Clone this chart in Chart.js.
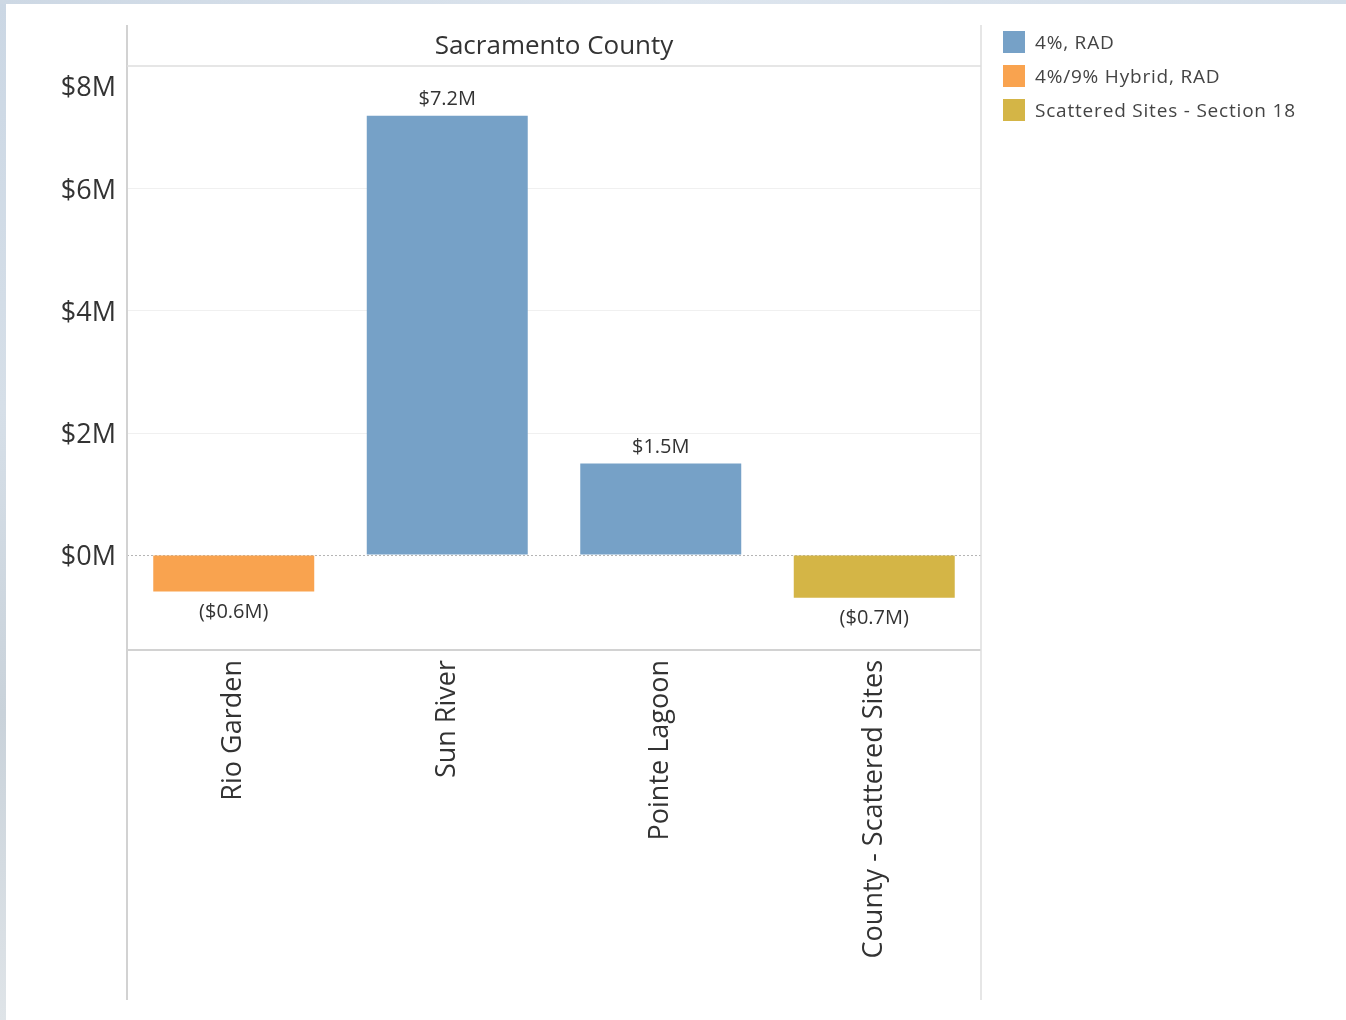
<!DOCTYPE html>
<html>
<head>
<meta charset="utf-8">
<title>Sacramento County</title>
<script src="https://cdn.jsdelivr.net/npm/chart.js@4.4.1/dist/chart.umd.min.js"></script>
<style>
    body { margin: 0; background: #fff; font-family: "Open Sans", sans-serif; }
    #wrap { position: relative; width: 1346px; height: 1020px; overflow: hidden; background: #fff; }
    #edgeLeft { position: absolute; left: 0; top: 0; width: 6px; height: 1020px;
        background: linear-gradient(#cbd7e4, #d6dfe8 40%, #c9d2da 70%, #dfe4e8); }
    #edgeTop { position: absolute; left: 0; top: 0; width: 1346px; height: 4px;
        background: linear-gradient(90deg, #cdd8e4, #dde5ee 50%, #d4dee9); }
    #chart { position: absolute; left: 0; top: 0; }
    #legend { position: absolute; left: 1003px; top: 25px; }
    .legend-item { display: flex; align-items: center; height: 34px; font-size: 19px; letter-spacing: 0.8px; color: #444; }
    .legend-swatch { width: 22px; height: 22px; margin-right: 10px; }
</style>
</head>
<body>
<div id="wrap">
    <canvas id="chart" width="1346" height="1020"></canvas>
    <div id="edgeLeft"></div>
    <div id="edgeTop"></div>
    <div id="legend"></div>
</div>
<script>
// 物件ごとの金額（百万ドル）
const categories = ['Rio Garden', 'Sun River', 'Pointe Lagoon', 'County - Scattered Sites'];
const amounts = [-0.6, 7.2, 1.5, -0.7];
const dealTypes = ['4%/9% Hybrid, RAD', '4%, RAD', '4%, RAD', 'Scattered Sites - Section 18'];

// 凡例の種別と色
const typeNames = ['4%, RAD', '4%/9% Hybrid, RAD', 'Scattered Sites - Section 18'];
const typeColors = ['#76a1c7', '#f9a34f', '#d4b546'];

// Y軸の目盛り
const yTicks = [0, 2, 4, 6, 8];

const FONT = '"Open Sans", sans-serif';
const barColors = dealTypes.map(t => typeColors[typeNames.indexOf(t)]);

// 金額ラベルの書式
function formatAmount(v) {
    const s = '$' + Math.abs(v).toFixed(1) + 'M';
    return v < 0 ? '(' + s + ')' : s;
}

// 凡例を作成
const legendEl = document.getElementById('legend');
typeNames.forEach((name, i) => {
    const item = document.createElement('div');
    item.className = 'legend-item';
    item.innerHTML = `<span class="legend-swatch" style="background:${typeColors[i]}"></span>${name}`;
    legendEl.appendChild(item);
});

// 枠線・タイトル・ゼロ線・Y軸ラベル・値ラベル
const decorations = {
    id: 'decorations',
    beforeDatasetsDraw(chart) {
        const { ctx, chartArea } = chart;
        const y0 = chart.scales.y.getPixelForValue(0);
        ctx.save();
        ctx.strokeStyle = '#b5b5b5';
        ctx.lineWidth = 1;
        ctx.setLineDash([2, 2]);
        ctx.beginPath();
        ctx.moveTo(chartArea.left, y0 + 0.5);
        ctx.lineTo(chartArea.right, y0 + 0.5);
        ctx.stroke();
        ctx.restore();
    },
    afterDraw(chart) {
        const { ctx, chartArea } = chart;
        const yScale = chart.scales.y;
        ctx.save();

        // 枠線
        ctx.strokeStyle = '#d2d2d2';
        ctx.lineWidth = 2;
        ctx.beginPath();
        ctx.moveTo(chartArea.left, 25);
        ctx.lineTo(chartArea.left, 1000);
        ctx.moveTo(chartArea.left, chartArea.bottom);
        ctx.lineTo(chartArea.right, chartArea.bottom);
        ctx.stroke();
        ctx.strokeStyle = '#dedede';
        ctx.lineWidth = 1.5;
        ctx.beginPath();
        ctx.moveTo(chartArea.right, 25);
        ctx.lineTo(chartArea.right, 1000);
        ctx.moveTo(chartArea.left, chartArea.top);
        ctx.lineTo(chartArea.right, chartArea.top);
        ctx.stroke();

        // タイトル
        ctx.fillStyle = '#333';
        ctx.font = '26px ' + FONT;
        ctx.textAlign = 'center';
        ctx.textBaseline = 'middle';
        ctx.fillText('Sacramento County', (chartArea.left + chartArea.right) / 2, 47);

        // Y軸ラベル（上端のラベルは枠内に収める）
        ctx.font = '27px ' + FONT;
        ctx.textAlign = 'right';
        ctx.fillStyle = '#333';
        yTicks.forEach(v => {
            const py = Math.max(yScale.getPixelForValue(v), chartArea.top + 20);
            ctx.fillText('$' + v + 'M', chartArea.left - 11, py + 2);
        });

        // 値ラベル
        ctx.font = '20px ' + FONT;
        ctx.textAlign = 'center';
        const meta = chart.getDatasetMeta(0);
        meta.data.forEach((bar, i) => {
            const v = amounts[i];
            const py = v >= 0 ? bar.y - 16 : bar.y + 21;
            ctx.fillText(formatAmount(v), bar.x, py);
        });
        ctx.restore();
    }
};

new Chart(document.getElementById('chart'), {
    type: 'bar',
    data: {
        labels: categories,
        datasets: [{
            data: amounts,
            backgroundColor: barColors,
            barPercentage: 1,
            categoryPercentage: 0.754
        }]
    },
    options: {
        responsive: false,
        animation: false,
        layout: {
            padding: { top: 66, right: 365, bottom: 0, left: 0 }
        },
        plugins: {
            legend: { display: false },
            tooltip: { enabled: false }
        },
        scales: {
            x: {
                grid: { display: false },
                border: { display: false },
                ticks: {
                    autoSkip: false,
                    minRotation: 90,
                    maxRotation: 90,
                    padding: 2,
                    color: '#333',
                    font: { size: 27, family: FONT }
                },
                afterFit: function (scale) {
                    scale.height = 370;
                }
            },
            y: {
                min: -1.557,
                max: 8.016,
                afterBuildTicks: function (scale) {
                    scale.ticks = yTicks.map(v => ({ value: v }));
                },
                ticks: { display: false },
                grid: {
                    drawTicks: false,
                    color: ctx => (ctx.tick && (ctx.tick.value === 0 || ctx.tick.value === 8)) ? 'rgba(0,0,0,0)' : '#f0f0f0'
                },
                border: { display: false },
                afterFit: function (scale) {
                    scale.width = 127;
                }
            }
        }
    },
    plugins: [decorations]
});
</script>
</body>
</html>
